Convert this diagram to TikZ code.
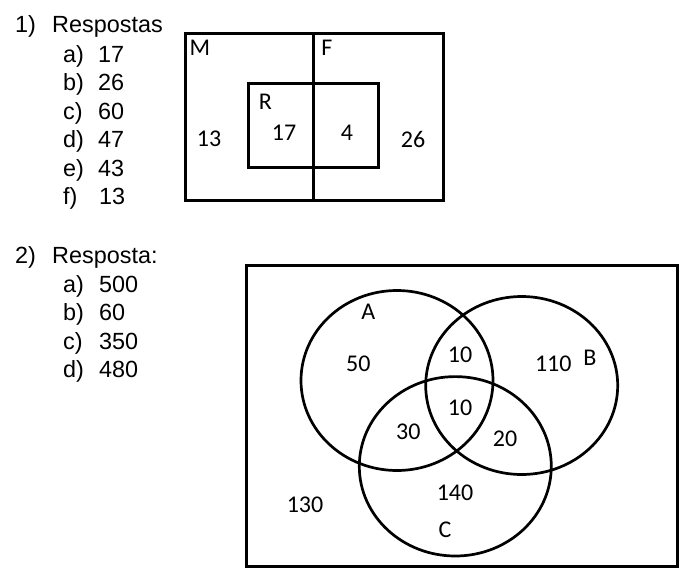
\documentclass[tikz,border=0pt]{standalone}
\usepackage{fontspec}
\usepackage{tikz}
\usetikzlibrary{positioning}
\newfontfamily\arialfont{Liberation Sans}
\newfontfamily\calibrifont{Carlito}

\begin{document}
\begin{tikzpicture}[x=1pt, y=-1pt,
    answer/.style={anchor=base west, inner sep=0pt, font=\arialfont\fontsize{23.4}{27}\selectfont},
    tag/.style={inner sep=0pt, font=\calibrifont\fontsize{24}{28}\selectfont},
    frame/.style={line width=3pt},
    set/.style={line width=2.7pt}]
\useasboundingbox (0,0) rectangle (689,568);
%============ question 1
\node[answer] (Q1) at (15,32) {1)};
\node[answer] (Q1t) at (52,32) {Respostas};
\node[answer] (Q1a) at (63,62) {a)};
\node[answer] (Q1av) at (98,62) {17};
\node[answer] (Q1b) at (63,90.5) {b)};
\node[answer] (Q1bv) at (98,90.5) {26};
\node[answer] (Q1c) at (63,119) {c)};
\node[answer] (Q1cv) at (98,119) {60};
\node[answer] (Q1d) at (63,147.5) {d)};
\node[answer] (Q1dv) at (98,147.5) {47};
\node[answer] (Q1e) at (63,176) {e)};
\node[answer] (Q1ev) at (98,176) {43};
\node[answer] (Q1f) at (63,204) {f)};
\node[answer] (Q1fv) at (99,204) {13};

\draw[frame] (185,33.5) rectangle (443,200);
\draw[frame] (248,83) rectangle (378,167);
\draw[frame] (313.5,33.5) -- (313.5,200);
\node[tag] (M) at (200,48) {M};
\node[tag] (F) at (327,48) {F};
\node[tag] (R) at (265.5,102) {R};
\node[tag] (MR) at (284,133) {17};
\node[tag] (FR) at (347,133) {4};
\node[tag] (MO) at (209,139) {13};
\node[tag] (FO) at (413,139) {26};

%============ question 2
\node[answer] (Q2) at (15,263.5) {2)};
\node[answer] (Q2t) at (52,263.5) {Resposta:};
\node[answer] (Q2a) at (63,292.5) {a)};
\node[answer] (Q2av) at (99,292.5) {500};
\node[answer] (Q2b) at (63,320.5) {b)};
\node[answer] (Q2bv) at (99,320.5) {60};
\node[answer] (Q2c) at (63,349) {c)};
\node[answer] (Q2cv) at (99,349) {350};
\node[answer] (Q2d) at (63,377.5) {d)};
\node[answer] (Q2dv) at (99,377.5) {480};

\draw[frame] (246.5,265) rectangle (677,566);
\coordinate (cA) at (397,380.5);
\coordinate (cB) at (521.7,385.5);
\coordinate (cC) at (455.3,466.3);
\draw[set] (cA) ellipse [x radius=96pt, y radius=90pt];
\draw[set] (cB) ellipse [x radius=96pt, y radius=89pt];
\draw[set] (cC) ellipse [x radius=96pt, y radius=89.7pt];
\node[tag] (A) at (368.3,311.7) {A};
\node[tag] (B) at (590,357.7) {B};
\node[tag] (C) at (445,529.3) {C};
\node[tag] (nA) at (358.3,363.3) {50};
\node[tag] (nAB) at (460,355) {10};
\node[tag] (nB) at (553.3,363.3) {110};
\node[tag] (nABC) at (460,407.7) {10};
\node[tag] (nAC) at (408.3,431.7) {30};
\node[tag] (nBC) at (505,439) {20};
\node[tag] (nC) at (455,492.3) {140};
\node[tag] (nO) at (305,505) {130};
\end{tikzpicture}
\end{document}
